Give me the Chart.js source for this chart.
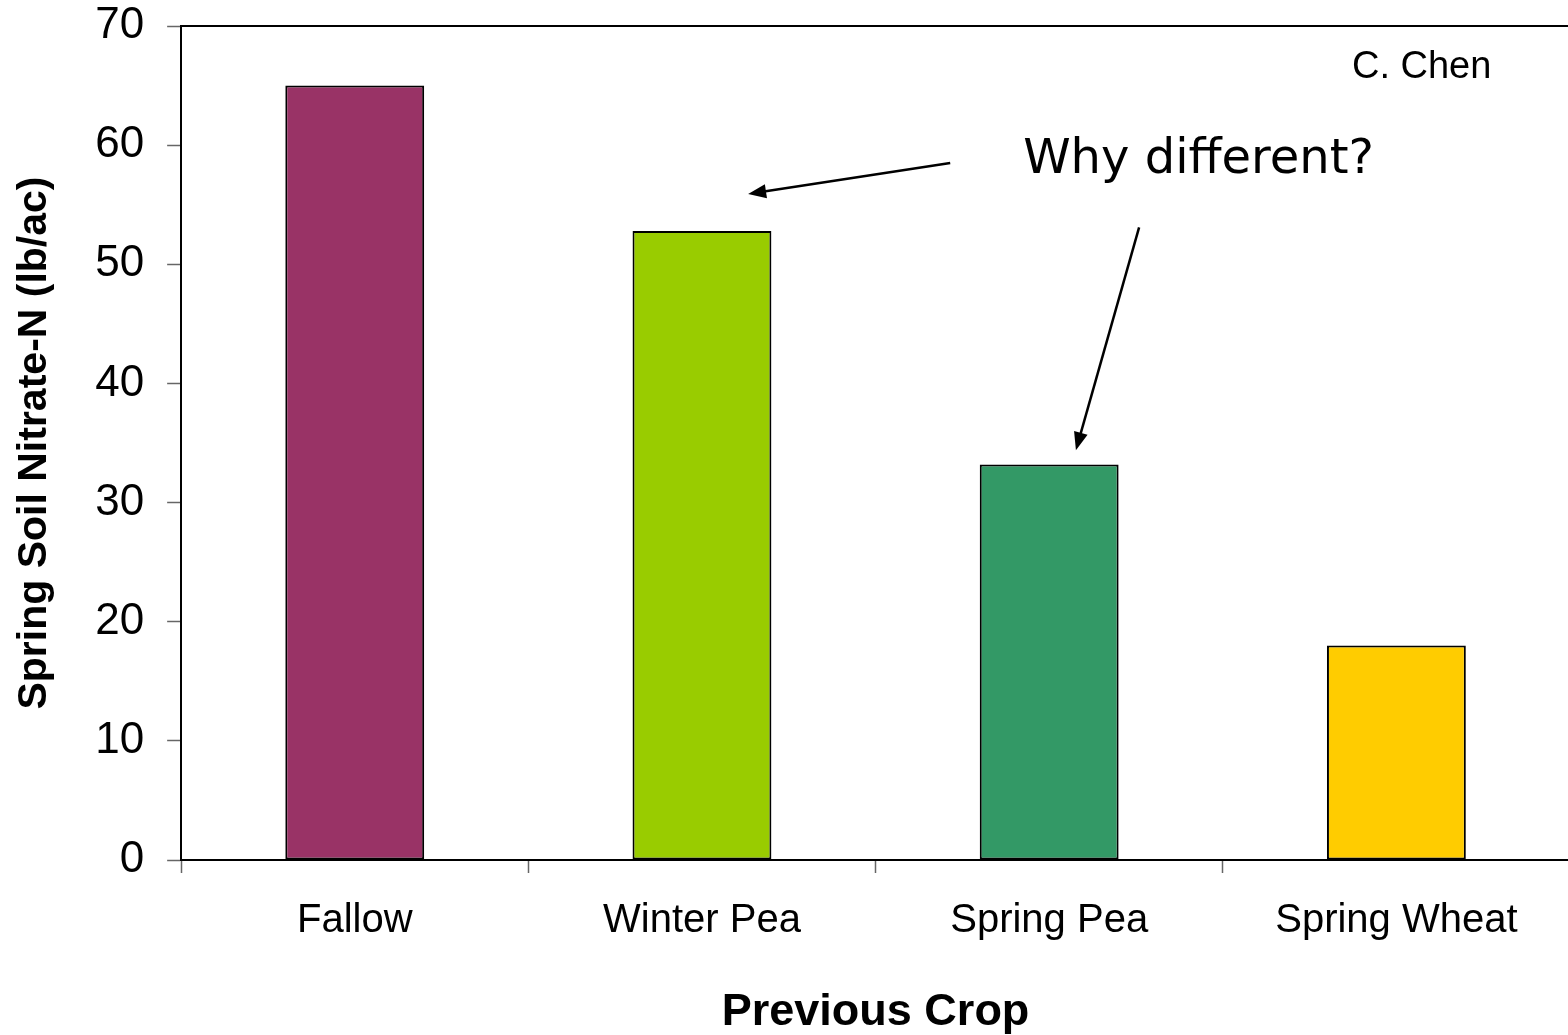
<!DOCTYPE html>
<html>
<head>
<meta charset="utf-8">
<script src="https://cdn.jsdelivr.net/npm/chart.js@4.4.1/dist/chart.umd.min.js"></script>
<style>
  html, body { margin: 0; padding: 0; background: #fff; overflow: hidden; }
  #wrap { position: relative; width: 1572px; height: 1035px; }
</style>
</head>
<body>
<div id="wrap"><canvas id="chart_previousCrop"></canvas></div>
<script>
// values
var crops = ['Fallow', 'Winter Pea', 'Spring Pea', 'Spring Wheat'];
var nitrateN = [65, 52.8, 33.2, 18];
var barColors = ['#993366', '#99CC00', '#339966', '#FFCC00'];
var yTicks = [0, 10, 20, 30, 40, 50, 60, 70];

// annotation anchors in data units (x = category index, y = lb/ac)
var calloutText = 'Why different?';
var calloutAt = {x: 1.925, y: 57.7};
var arrows = [
    {from: {x: 1.715, y: 58.5}, to: {x: 1.133, y: 55.9}},
    {from: {x: 2.259, y: 53.1}, to: {x: 2.077, y: 34.4}}
];
var creditText = 'C. Chen';
var creditAt = {x: 2.872, y: 66.5};

function drawArrow(ctx, x1, y1, x2, y2) {
    var ang = Math.atan2(y2 - y1, x2 - x1);
    var len = 18, half = 7;
    ctx.beginPath();
    ctx.moveTo(x1, y1);
    ctx.lineTo(x2 - Math.cos(ang) * len * 0.8, y2 - Math.sin(ang) * len * 0.8);
    ctx.lineWidth = 2.5;
    ctx.strokeStyle = '#000';
    ctx.stroke();
    ctx.beginPath();
    ctx.moveTo(x2, y2);
    ctx.lineTo(x2 - Math.cos(ang) * len - Math.sin(ang) * half, y2 - Math.sin(ang) * len + Math.cos(ang) * half);
    ctx.lineTo(x2 - Math.cos(ang) * len + Math.sin(ang) * half, y2 - Math.sin(ang) * len - Math.cos(ang) * half);
    ctx.closePath();
    ctx.fillStyle = '#000';
    ctx.fill();
}

var chart_previousCrop = new Chart(document.getElementById('chart_previousCrop'), {
    type: 'bar',
    data: {
        labels: crops,
        datasets: [
            {
                label: 'Spring Soil Nitrate-N',
                data: nitrateN,
                backgroundColor: barColors,
                borderColor: '#000',
                borderWidth: 2,
                borderSkipped: false,
                barPercentage: 0.4,
                categoryPercentage: 1.0
            }
        ]
    },
    options: {
        animation: false,
        responsive: true,
        maintainAspectRatio: false,
        layout: {
            padding: {top: 26, right: 2, bottom: 0, left: 10}
        },
        plugins: {
            legend: { display: false },
            tooltip: { enabled: false }
        },
        scales: {
            x: {
                type: 'category',
                grid: {
                    drawOnChartArea: false,
                    offset: true,
                    tickLength: 13,
                    tickColor: '#666',
                    tickWidth: 1.5
                },
                border: { color: '#000', width: 2 },
                ticks: {
                    color: '#000',
                    padding: 24,
                    font: { family: 'Liberation Sans, Arial, sans-serif', size: 40 }
                },
                title: {
                    display: true,
                    text: 'Previous Crop',
                    color: '#000',
                    padding: {top: 21, bottom: 0},
                    font: { family: 'Liberation Sans, Arial, sans-serif', size: 45, weight: 'bold', lineHeight: 1.0 }
                }
            },
            y: {
                type: 'linear',
                min: 0,
                max: 70,
                afterBuildTicks: function(axis) {
                    axis.ticks = yTicks.map(function(v) { return {value: v}; });
                },
                afterFit: function(axis) {
                    // top label may hang over the frame, like the original
                    axis.paddingTop = 0;
                },
                grid: {
                    drawOnChartArea: false,
                    tickLength: 14,
                    tickColor: '#666',
                    tickWidth: 1.5
                },
                border: { color: '#000', width: 2 },
                ticks: {
                    color: '#000',
                    padding: 23,
                    font: { family: 'Liberation Sans, Arial, sans-serif', size: 44, lineHeight: 1.0 }
                },
                title: {
                    display: true,
                    text: 'Spring Soil Nitrate-N (lb/ac)',
                    color: '#000',
                    padding: {top: 0, bottom: 13},
                    font: { family: 'Liberation Sans, Arial, sans-serif', size: 41, weight: 'bold' }
                }
            }
        }
    },
    plugins: [{
        id: 'frameAndNotes',
        beforeDraw: (chart) => {
            const ctx = chart.ctx;
            ctx.save();
            ctx.fillStyle = 'white';
            ctx.fillRect(0, 0, chart.width, chart.height);
            ctx.restore();
        },
        afterDraw: (chart) => {
            const ctx = chart.ctx;
            const a = chart.chartArea;
            const xs = chart.scales.x, ys = chart.scales.y;
            ctx.save();
            // top and right border of plot frame
            ctx.beginPath();
            ctx.moveTo(a.left, a.top);
            ctx.lineTo(a.right, a.top);
            ctx.lineTo(a.right, a.bottom);
            ctx.lineWidth = 2;
            ctx.strokeStyle = '#000';
            ctx.stroke();

            arrows.forEach(function(ar) {
                drawArrow(ctx,
                    xs.getPixelForValue(ar.from.x), ys.getPixelForValue(ar.from.y),
                    xs.getPixelForValue(ar.to.x), ys.getPixelForValue(ar.to.y));
            });

            ctx.fillStyle = '#000';
            ctx.textAlign = 'left';
            ctx.textBaseline = 'alphabetic';
            ctx.font = '48px "DejaVu Sans", Verdana, sans-serif';
            ctx.fillText(calloutText, xs.getPixelForValue(calloutAt.x), ys.getPixelForValue(calloutAt.y));

            ctx.font = '38px "Liberation Sans", Arial, sans-serif';
            ctx.textBaseline = 'middle';
            ctx.fillText(creditText, xs.getPixelForValue(creditAt.x), ys.getPixelForValue(creditAt.y));
            ctx.restore();
        }
    }]
});
</script>
</body>
</html>
